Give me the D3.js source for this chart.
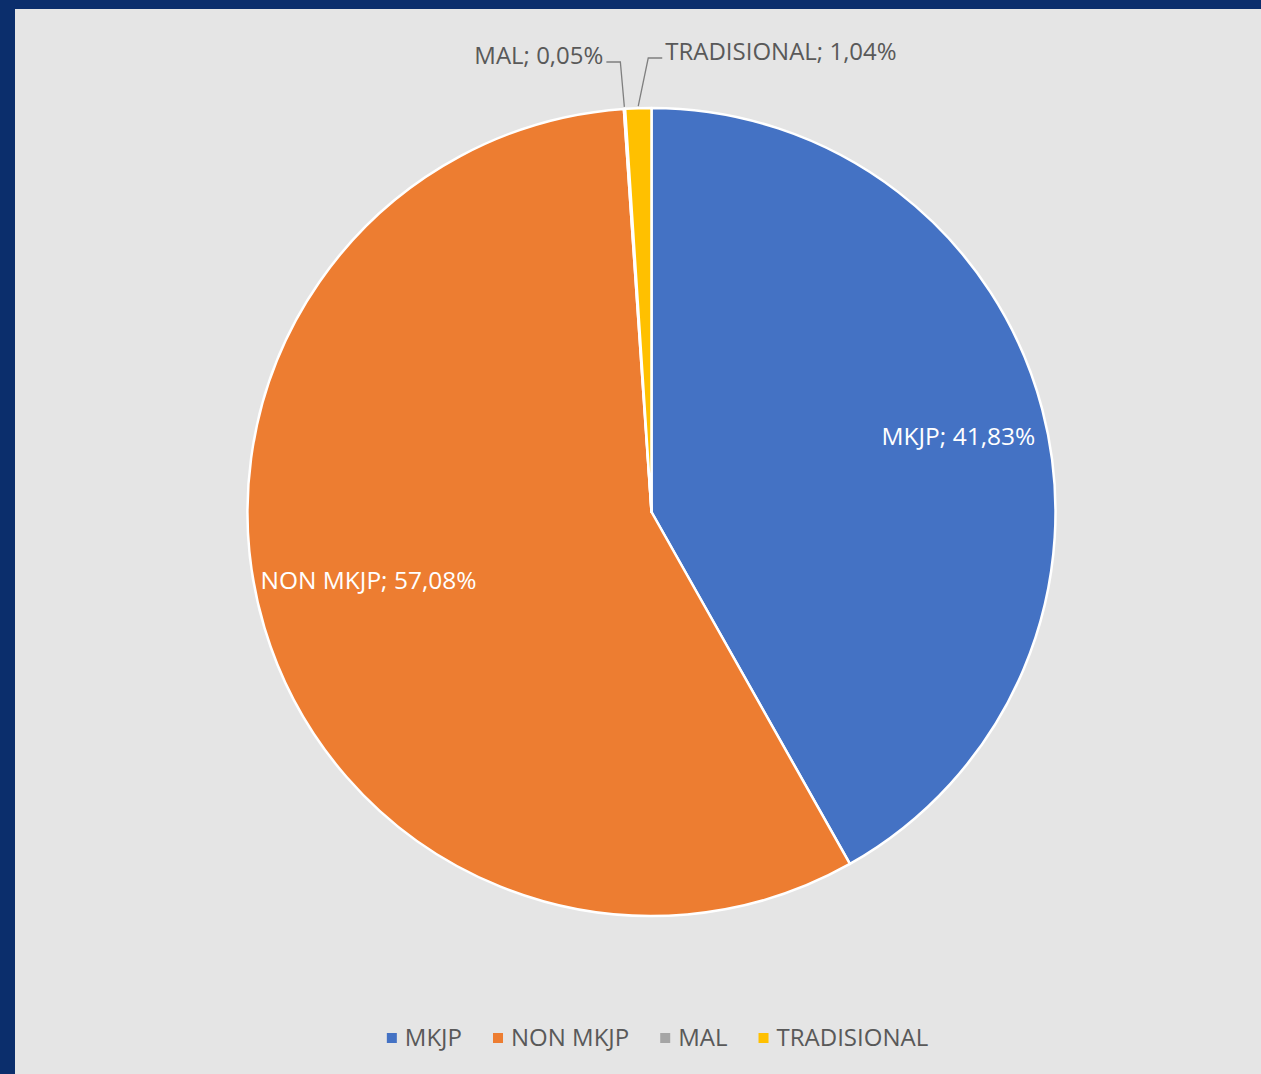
<!DOCTYPE html>
<html>
<head>
<meta charset="utf-8">
<script src="https://cdn.jsdelivr.net/npm/d3@7"></script>
<style>
  html, body { margin: 0; padding: 0; background: #e5e5e5; }
  svg { display: block; }
  text { font-family: "Open Sans", "Noto Sans", sans-serif; }
</style>
</head>
<body>
<svg id="chart" width="1261" height="1074"></svg>
<script>
// ---- data ----
const categories = ["MKJP", "NON MKJP", "MAL", "TRADISIONAL"];
const values = [41.83, 57.08, 0.05, 1.04];
const valueLabels = ["41,83%", "57,08%", "0,05%", "1,04%"];
const colors = ["#4472C4", "#ED7D31", "#A5A5A5", "#FFC000"];

// ---- layout ----
const W = 1261, H = 1074;
const cx = 651.5, cy = 512, R = 404;
const svg = d3.select("#chart");

svg.append("rect").attr("x", 0).attr("y", 0).attr("width", W).attr("height", H).attr("fill", "#0b2e6c");
svg.append("rect").attr("x", 15).attr("y", 9).attr("width", W - 15).attr("height", H - 9).attr("fill", "#e5e5e5");

const pie = d3.pie().sort(null).value(d => d.v);
const data = categories.map((c, i) => ({ c, v: values[i], lab: valueLabels[i], col: colors[i] }));
const arcs = pie(data);
const arc = d3.arc().innerRadius(0).outerRadius(R);

const g = svg.append("g").attr("transform", `translate(${cx},${cy})`);
g.selectAll("path.slice").data(arcs).enter().append("path")
  .attr("class", "slice")
  .attr("d", arc)
  .attr("fill", d => d.data.col)
  .attr("stroke", "#ffffff")
  .attr("stroke-width", 2.5)
  .attr("stroke-linejoin", "round");

// inside labels (large slices)
const inside = arcs.filter(d => d.data.v > 10);
const labelArc = d3.arc().innerRadius(R * 0.77).outerRadius(R * 0.77);
const insideOffsets = { "MKJP": [6, 3], "NON MKJP": [15, -21] };
g.selectAll("text.inlab").data(inside).enter().append("text")
  .attr("class", "inlab")
  .attr("transform", d => {
    const [x, y] = labelArc.centroid(d);
    const o = insideOffsets[d.data.c];
    return `translate(${x + o[0]},${y + o[1]})`;
  })
  .attr("text-anchor", "middle")
  .attr("dy", "0.35em")
  .attr("fill", "#ffffff")
  .style("font-size", "24.5px")
  .text(d => `${d.data.c}; ${d.data.lab}`);

// outside labels (small slices) with leader lines
const outside = arcs.filter(d => d.data.v <= 10);
const labelY = -454; // relative to centre
outside.forEach(d => {
  const mid = (d.startAngle + d.endAngle) / 2;
  const px = Math.sin(mid) * (R + 2), py = -Math.cos(mid) * (R + 2);
  const isLeft = d.data.c === "MAL";
  const elbowX = isLeft ? px - 4 : px + 10;
  const endX = isLeft ? elbowX - 14 : elbowX + 14;
  const ly = isLeft ? labelY + 4 : labelY;
  g.append("path")
    .attr("d", `M${px},${py}L${elbowX},${ly}L${endX},${ly}`)
    .attr("fill", "none")
    .attr("stroke", "#7f7f7f")
    .attr("stroke-width", 1.3);
  g.append("text")
    .attr("x", isLeft ? endX - 3 : endX + 3)
    .attr("y", ly - 6)
    .attr("text-anchor", isLeft ? "end" : "start")
    .attr("dy", "0.35em")
    .attr("fill", "#595959")
    .style("font-size", "24px")
    .text(`${d.data.c}; ${d.data.lab}`);
});

// legend
const legendY = 1038;
const legend = svg.append("g");
const items = legend.selectAll("g.item").data(data).enter().append("g").attr("class", "item");
items.append("rect").attr("width", 10).attr("height", 10).attr("y", -5).attr("fill", d => d.col);
items.append("text").attr("x", 18).attr("dy", "0.35em").attr("fill", "#595959")
  .style("font-size", "24px").text(d => d.c);
let xpos = 0;
const widths = [];
items.each(function () {
  const w = this.getBBox().width;
  widths.push(w);
});
items.attr("transform", (d, i) => {
  const t = `translate(${xpos},0)`;
  xpos += widths[i] + 31;
  return t;
});
const totalW = xpos - 31;
legend.attr("transform", `translate(${657.5 - totalW / 2},${legendY})`);
</script>
</body>
</html>
